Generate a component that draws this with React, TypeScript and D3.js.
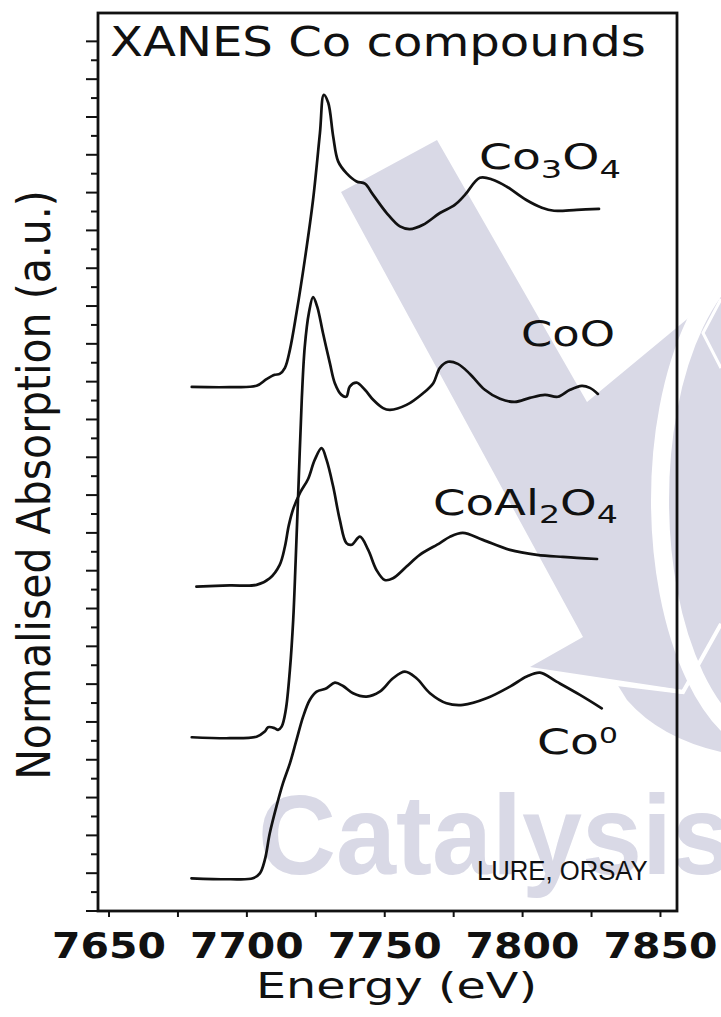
import React, { useEffect, useRef } from "react";
import * as d3 from "d3";

// ---------- data ----------
const energyTicks = [7650, 7700, 7750, 7800, 7850];
const energyMinorTicks = [7675, 7725, 7775, 7825];
const absorptionTicks = d3.range(0, 47);

// [Energy (eV), normalised absorption (a.u., offset stacked)]
const co3o4Data: [number, number][] = [
  [7680.0, 27.72], [7693.8, 27.71], [7703.5, 27.78], [7707.1, 28.13], [7710.1, 28.36],
  [7711.9, 28.41], [7713.8, 28.73], [7715.6, 29.68], [7718.0, 31.64], [7721.0, 34.44],
  [7724.0, 37.62], [7726.5, 41.16], [7727.9, 43.17], [7729.5, 42.75], [7731.3, 40.97],
  [7733.1, 39.65], [7736.1, 39.03], [7739.8, 38.59], [7742.8, 38.47], [7745.8, 37.88],
  [7750.7, 36.92], [7755.5, 36.21], [7759.1, 36.07], [7763.9, 36.30], [7770.0, 36.92],
  [7775.4, 37.35], [7779.1, 37.88], [7784.5, 38.78], [7789.2, 38.68], [7794.3, 38.31],
  [7801.2, 37.62], [7807.0, 37.20], [7811.4, 37.04], [7819.7, 37.09], [7827.7, 37.14],
];

const coOData: [number, number][] = [
  [7680.0, 9.19], [7693.8, 9.14], [7703.5, 9.22], [7706.5, 9.49], [7707.7, 9.72],
  [7710.1, 9.67], [7711.3, 9.58], [7712.6, 9.75], [7714.1, 10.63], [7715.6, 12.75],
  [7716.8, 15.4], [7717.7, 18.57], [7718.8, 22.8], [7719.9, 27.04], [7721.0, 29.86],
  [7722.5, 31.64], [7724.0, 32.47], [7725.5, 31.97], [7727.6, 30.57], [7730.1, 28.98],
  [7731.9, 27.92], [7734.3, 27.3], [7736.1, 27.21], [7737.3, 27.74], [7739.8, 27.95],
  [7742.8, 27.57], [7745.8, 27.04], [7749.4, 26.6], [7751.9, 26.51], [7757.9, 26.77],
  [7763.9, 27.39], [7767.6, 27.92], [7770.0, 28.73], [7772.9, 29.05], [7776.5, 28.94],
  [7780.9, 28.41], [7786.3, 27.57], [7791.8, 27.09], [7797.2, 26.93], [7802.6, 27.14],
  [7808.1, 27.3], [7812.8, 27.2], [7817.2, 27.57], [7821.5, 27.78], [7824.4, 27.67],
  [7827.3, 27.35],
];

const coAl2O4Data: [number, number][] = [
  [7681.7, 17.16], [7693.8, 17.22], [7703.5, 17.25], [7708.3, 17.6], [7711.9, 18.31],
  [7713.8, 19.28], [7715.2, 20.4], [7717.0, 21.35], [7719.4, 22.15], [7722.2, 22.85],
  [7724.6, 23.86], [7727.1, 24.48], [7728.9, 23.86], [7731.3, 22.45], [7733.7, 20.69],
  [7736.1, 19.46], [7738.0, 19.37], [7741.0, 19.8], [7744.0, 19.1], [7747.0, 18.04],
  [7750.0, 17.51], [7753.0, 17.6], [7757.9, 18.22], [7762.7, 18.84], [7770.0, 19.46],
  [7773.6, 19.79], [7778.3, 20.0], [7785.6, 19.63], [7795.4, 19.1], [7805.2, 18.84],
  [7814.6, 18.73], [7819.7, 18.68], [7827.0, 18.62],
];

const co0Data: [number, number][] = [
  [7679.9, 1.73], [7693.8, 1.68], [7702.2, 1.73], [7704.7, 1.99], [7706.5, 2.7],
  [7708.3, 4.11], [7710.7, 5.52], [7713.1, 6.76], [7715.6, 7.81], [7718.0, 9.05],
  [7720.4, 10.28], [7722.8, 11.16], [7725.3, 11.6], [7728.9, 11.78], [7731.9, 12.08],
  [7734.9, 11.9], [7738.5, 11.52], [7743.4, 11.34], [7748.2, 11.6], [7753.0, 12.31],
  [7757.3, 12.66], [7761.5, 12.31], [7766.4, 11.52], [7772.4, 10.99], [7778.4, 10.9],
  [7786.9, 11.25], [7795.4, 11.87], [7801.5, 12.4], [7806.3, 12.61], [7812.3, 12.13],
  [7820.8, 11.43], [7828.7, 10.72],
];

type Part = { t: string; shift?: number; size?: number };

function addText(
  g: d3.Selection<any, unknown, null, undefined>,
  parts: Part[],
  o: { left: number; baseline: number; width: number; size: number; family: string; weight?: string; fill?: string }
) {
  const t = g
    .append("text")
    .attr("font-family", o.family)
    .attr("font-size", o.size)
    .attr("font-weight", o.weight ?? "normal")
    .attr("fill", o.fill ?? "#111");
  let prev = 0;
  parts.forEach((p) => {
    const s = p.shift ?? 0;
    const ts = t.append("tspan").text(p.t).attr("dy", s - prev);
    if (p.size) ts.attr("font-size", p.size);
    prev = s;
  });
  const bb = (t.node() as SVGTextElement).getBBox();
  const sx = o.width / bb.width;
  t.attr("transform", `translate(${o.left - bb.x * sx},${o.baseline}) scale(${sx},1)`);
  return t;
}

export default function App() {
  const ref = useRef<SVGSVGElement>(null);

  useEffect(() => {
    const W = 721;
    const H = 1017;
    const svg = d3.select(ref.current as SVGSVGElement);
    svg.selectAll("*").remove();

    const frame = { left: 98, right: 677, top: 13, bottom: 911 };
    const x = d3.scaleLinear().domain([7646, 7856]).range([frame.left, frame.right]);
    const y = d3.scaleLinear().domain([0, 47.5]).range([frame.bottom, frame.top]);

    svg.append("rect").attr("width", W).attr("height", H).attr("fill", "#fff");

    // ---------- watermark ----------
    const lav = "#d9d9e6";
    const wm = svg.append("g");
    wm.append("path")
      .attr("d", "M341,192 L437,140 L587,402 L721,291 L721,623 L683,690 L530,667 L583,637 Z")
      .attr("fill", lav);
    wm.append("path")
      .attr("d", "M617,684 L683,694 L721,626 L721,752 Q660,738 627,700 Z")
      .attr("fill", lav);
    wm.append("ellipse")
      .attr("cx", 780).attr("cy", 500).attr("rx", 120).attr("ry", 250)
      .attr("fill", "none").attr("stroke", "#fff").attr("stroke-width", 18);
    wm.append("polyline")
      .attr("points", "721,299 703,333 721,368")
      .attr("fill", "none").attr("stroke", "#fff").attr("stroke-width", 3);
    wm.append("polyline")
      .attr("points", "617,684 683,692 721,624")
      .attr("fill", "none").attr("stroke", "#fff").attr("stroke-width", 4);
    addText(wm, [{ t: "Catalysis" }], {
      left: 258, baseline: 874, width: 474, size: 114,
      family: "'Liberation Sans', Arial, sans-serif", weight: "bold", fill: lav,
    });

    // ---------- frame & ticks ----------
    const axes = svg.append("g").attr("stroke", "#111");
    axes.selectAll("line.ytick")
      .data(absorptionTicks)
      .join("line")
      .attr("class", "ytick")
      .attr("x1", (d) => frame.left - (d % 2 === 0 ? 12 : 7))
      .attr("x2", frame.left)
      .attr("y1", (d) => y(d))
      .attr("y2", (d) => y(d))
      .attr("stroke-width", 2);
    axes.selectAll("line.xtick")
      .data([...energyTicks, ...energyMinorTicks])
      .join("line")
      .attr("class", "xtick")
      .attr("x1", (d) => x(d))
      .attr("x2", (d) => x(d))
      .attr("y1", frame.bottom)
      .attr("y2", frame.bottom + 6)
      .attr("stroke-width", 2);
    axes.append("rect")
      .attr("x", frame.left).attr("y", frame.top)
      .attr("width", frame.right - frame.left).attr("height", frame.bottom - frame.top)
      .attr("fill", "none").attr("stroke-width", 2.8);

    // ---------- curves ----------
    const line = d3
      .line<[number, number]>()
      .x((d) => x(d[0]))
      .y((d) => y(d[1]))
      .curve(d3.curveCatmullRom.alpha(0.5));
    const curves = svg.append("g")
      .attr("fill", "none").attr("stroke", "#111")
      .attr("stroke-width", 2.7).attr("stroke-linejoin", "round").attr("stroke-linecap", "round");
    [co3o4Data, coOData, coAl2O4Data, co0Data].forEach((s) => {
      curves.append("path").attr("d", line(s));
    });

    // ---------- texts ----------
    const sans = "'DejaVu Sans', Verdana, sans-serif";
    const txt = svg.append("g");
    addText(txt, [{ t: "XANES Co compounds" }], {
      left: 110, baseline: 56, width: 536, size: 40, family: sans,
    });
    addText(txt, [{ t: "Co" }, { t: "3", shift: 9, size: 25 }, { t: "O" }, { t: "4", shift: 9, size: 25 }], {
      left: 479, baseline: 169, width: 142, size: 35, family: sans,
    });
    addText(txt, [{ t: "CoO" }], {
      left: 521, baseline: 346, width: 94, size: 35, family: sans,
    });
    addText(txt, [{ t: "CoAl" }, { t: "2", shift: 8, size: 25 }, { t: "O" }, { t: "4", shift: 8, size: 25 }], {
      left: 433, baseline: 515, width: 185, size: 35, family: sans,
    });
    addText(txt, [{ t: "Co" }, { t: "0", shift: -11, size: 22 }], {
      left: 537, baseline: 754, width: 81, size: 35, family: sans,
    });
    addText(txt, [{ t: "LURE, ORSAY" }], {
      left: 477, baseline: 880, width: 171, size: 28, family: "'Liberation Sans', Arial, sans-serif",
    });

    energyTicks.forEach((e) => {
      addText(txt, [{ t: String(e) }], {
        left: x(e) - 57, baseline: 958, width: 114, size: 36, family: sans, weight: "bold",
      });
    });
    addText(txt, [{ t: "Energy (eV)" }], {
      left: 256, baseline: 998, width: 281, size: 36, family: sans,
    });

    // y-axis title (rotated)
    const yt = txt.append("text")
      .attr("font-family", sans).attr("font-size", 37).attr("fill", "#111")
      .attr("text-anchor", "middle")
      .text("Normalised Absorption (a.u.)");
    const bb = (yt.node() as SVGTextElement).getBBox();
    const sy = 590 / bb.width;
    const sx = 34 / (0.729 * 37);
    yt.attr("transform", `translate(50,485) scale(${sx},${sy}) rotate(-90)`);
  }, []);

  return (
    <svg
      ref={ref}
      width={721}
      height={1017}
      style={{ position: "absolute", left: 0, top: 0, display: "block" }}
    />
  );
}
